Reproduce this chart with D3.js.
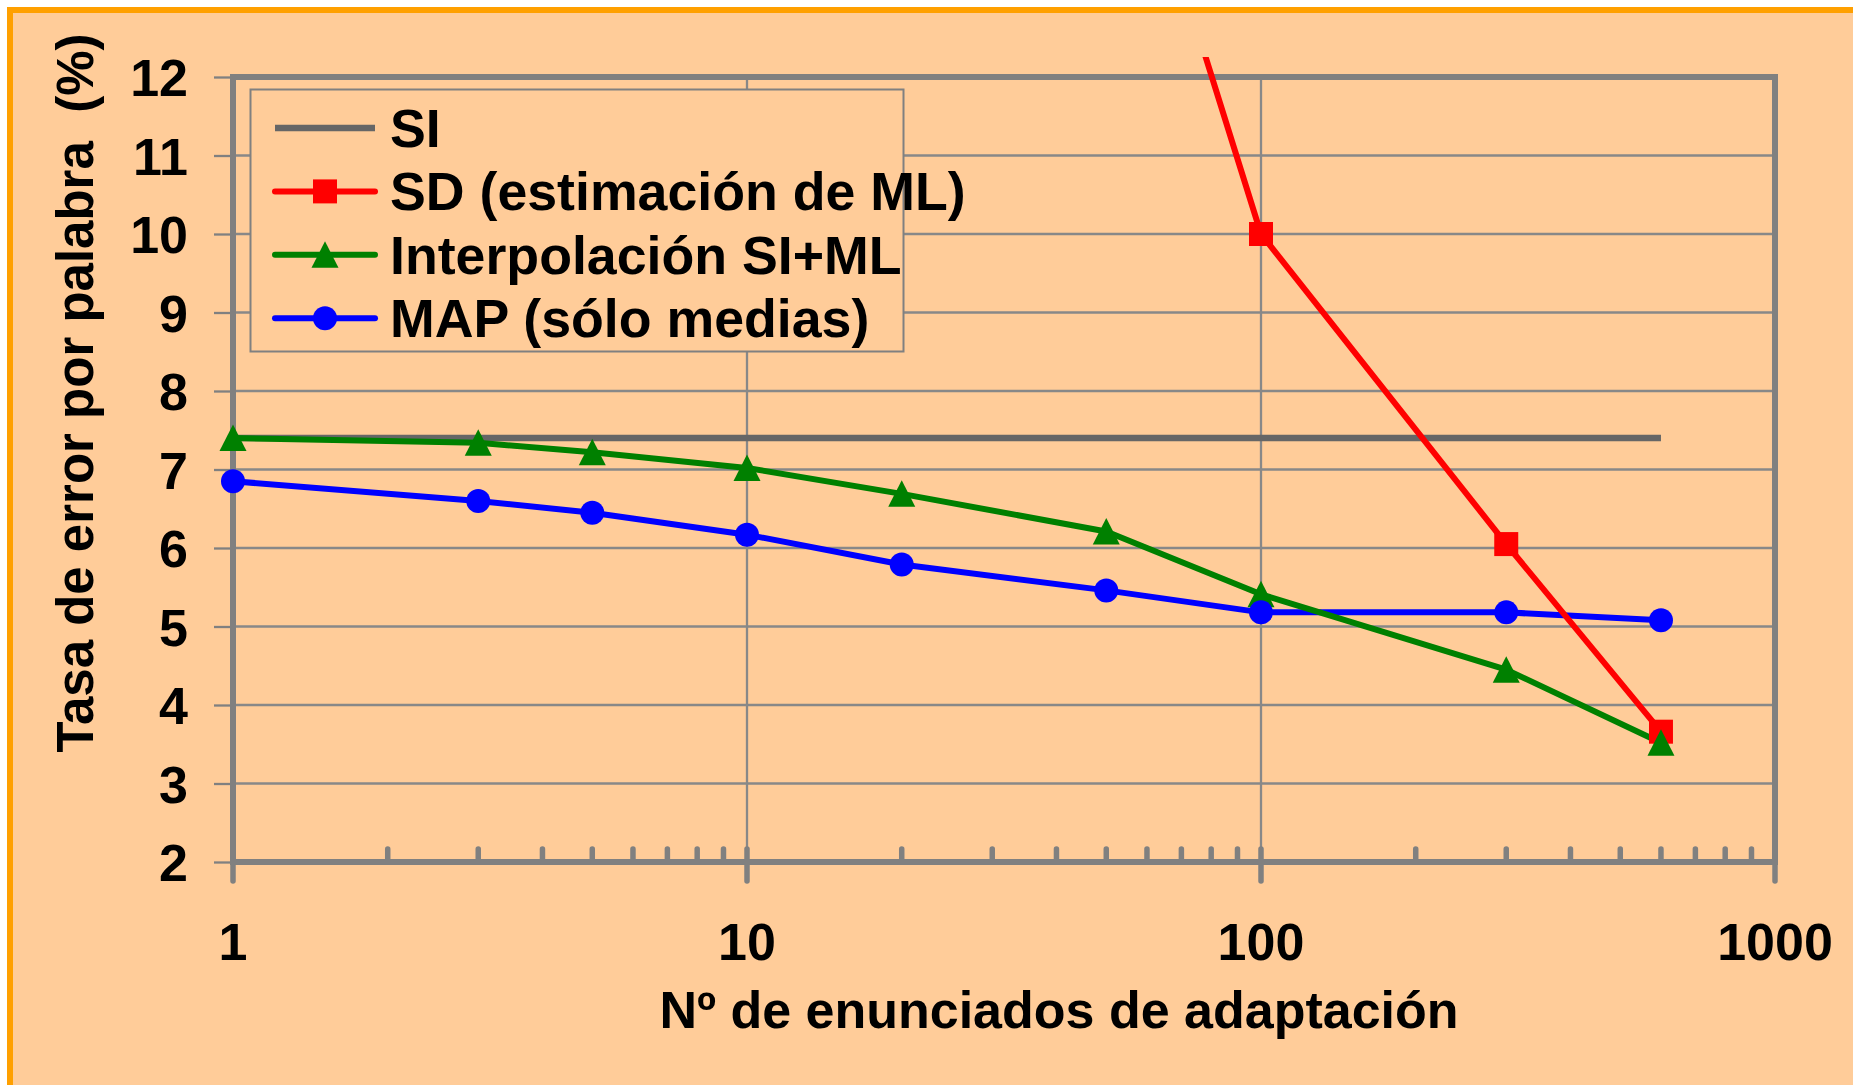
<!DOCTYPE html>
<html lang="es">
<head>
<meta charset="utf-8">
<title>Tasa de error por palabra</title>
<script src="https://cdn.jsdelivr.net/npm/d3@7/dist/d3.min.js"></script>
<style>
  html, body { margin: 0; padding: 0; background: #ffffff; }
  svg { display: block; }
  text { font-family: "Liberation Sans", Arial, Helvetica, sans-serif; font-weight: bold; fill: #000; }
</style>
</head>
<body>
<svg id="chart" width="1853" height="1085"></svg>
<script>
// Number of adaptation utterances (log axis)
const adaptN = [1, 3, 5, 10, 20, 50, 100, 300, 600];
// Word error rate (%) per system
const siN = [1, 600];
const siErr = [7.4, 7.4];
const sdN = [50, 100, 300, 600];
const sdErr = [16.3, 10.0, 6.05, 3.66];
const interpErr = [7.4, 7.34, 7.22, 7.02, 6.69, 6.21, 5.41, 4.45, 3.52];
const mapErr = [6.85, 6.6, 6.45, 6.17, 5.79, 5.46, 5.18, 5.18, 5.08];

const xTickValues = [1, 10, 100, 1000];
const yTickValues = [2, 3, 4, 5, 6, 7, 8, 9, 10, 11, 12];

const legendLabels = ["SI", "SD (estimación de ML)", "Interpolación SI+ML", "MAP (sólo medias)"];
const xTitle = "Nº de enunciados de adaptación";
const yTitle = "Tasa de error por palabra  (%)";

const svg = d3.select("#chart");
const W = 1853, H = 1085;
const plot = { left: 233, right: 1775, top: 77, bottom: 862 };
const axisGray = "#808080";
const fontSize = 52;

// Page background with orange frame
svg.append("rect")
  .attr("x", 10).attr("y", 10)
  .attr("width", W + 20).attr("height", H + 20)
  .attr("fill", "#FFCC99")
  .attr("stroke", "#FFA000")
  .attr("stroke-width", 6);

const x = d3.scaleLog().domain([1, 1000]).range([plot.left, plot.right]);
const y = d3.scaleLinear().domain([2, 12]).range([plot.bottom, plot.top]);

// Horizontal grid lines
svg.append("g").selectAll("line")
  .data(yTickValues.filter(v => v > 2 && v < 12))
  .join("line")
  .attr("x1", plot.left).attr("x2", plot.right)
  .attr("y1", d => y(d)).attr("y2", d => y(d))
  .attr("stroke", "#888888").attr("stroke-width", 2.3);

// Vertical grid lines at inner decades
svg.append("g").selectAll("line")
  .data(xTickValues.filter(v => v > 1 && v < 1000))
  .join("line")
  .attr("x1", d => x(d)).attr("x2", d => x(d))
  .attr("y1", plot.top).attr("y2", plot.bottom)
  .attr("stroke", "#888888").attr("stroke-width", 2.3);

// Y axis ticks and labels
const yAxis = d3.axisLeft(y)
  .tickValues(yTickValues)
  .tickSize(19)
  .tickPadding(26)
  .tickFormat(d3.format("d"));
const gy = svg.append("g").attr("transform", `translate(${plot.left},0)`).call(yAxis);
gy.select(".domain").remove();
gy.selectAll(".tick line").attr("stroke", axisGray).attr("stroke-width", 2.3);
gy.selectAll(".tick text")
  .attr("font-size", fontSize)
  .attr("font-family", null)
  .attr("dy", "0.36em")
  .style("font-weight", "bold");

// Minor x ticks (2..9 per decade), pointing up
const minorTicks = x.ticks().filter(v => !xTickValues.includes(v));
svg.append("g").selectAll("line")
  .data(minorTicks)
  .join("line")
  .attr("x1", d => x(d)).attr("x2", d => x(d))
  .attr("y1", plot.bottom - 13).attr("y2", plot.bottom)
  .attr("stroke", axisGray).attr("stroke-width", 5.5)
  .attr("stroke-linecap", "round");

// Major x ticks, crossing the axis
svg.append("g").selectAll("line")
  .data(xTickValues)
  .join("line")
  .attr("x1", d => x(d)).attr("x2", d => x(d))
  .attr("y1", plot.bottom - 13).attr("y2", plot.bottom + 19)
  .attr("stroke", axisGray).attr("stroke-width", 5.5)
  .attr("stroke-linecap", "round");

// Plot frame
svg.append("rect")
  .attr("x", plot.left).attr("y", plot.top)
  .attr("width", plot.right - plot.left).attr("height", plot.bottom - plot.top)
  .attr("fill", "none")
  .attr("stroke", axisGray).attr("stroke-width", 6);

// X tick labels
svg.append("g").selectAll("text")
  .data(xTickValues)
  .join("text")
  .attr("x", d => x(d))
  .attr("y", 960)
  .attr("text-anchor", "middle")
  .attr("font-size", fontSize)
  .text(d => d3.format("d")(d));

// Axis titles
svg.append("text")
  .attr("x", 1059).attr("y", 1028)
  .attr("text-anchor", "middle")
  .attr("font-size", fontSize)
  .text(xTitle);

svg.append("text")
  .attr("transform", "translate(93,393) rotate(-90)")
  .attr("text-anchor", "middle")
  .attr("font-size", 51)
  .style("white-space", "pre")
  .attr("xml:space", "preserve")
  .text(yTitle);

// Series
const line = d3.line().x(d => x(d[0])).y(d => y(d[1]));
const siData = d3.zip(siN, siErr);
const sdData = d3.zip(sdN, sdErr);
const interpData = d3.zip(adaptN, interpErr);
const mapData = d3.zip(adaptN, mapErr);

const colors = { si: "#666666", sd: "#FF0000", interp: "#008000", map: "#0000FF" };
const lineWidth = 6;

svg.append("defs").append("clipPath").attr("id", "clip")
  .append("rect")
  .attr("x", plot.left - 30).attr("y", plot.top - 20)
  .attr("width", plot.right - plot.left + 60)
  .attr("height", plot.bottom - plot.top + 60);

const series = svg.append("g").attr("clip-path", "url(#clip)");

series.append("path").datum(siData)
  .attr("d", line).attr("fill", "none")
  .attr("stroke", colors.si).attr("stroke-width", 6.5);
series.append("path").datum(mapData)
  .attr("d", line).attr("fill", "none")
  .attr("stroke", colors.map).attr("stroke-width", lineWidth).attr("stroke-linejoin", "round");
series.append("path").datum(interpData)
  .attr("d", line).attr("fill", "none")
  .attr("stroke", colors.interp).attr("stroke-width", lineWidth).attr("stroke-linejoin", "round");
series.append("path").datum(sdData)
  .attr("d", line).attr("fill", "none")
  .attr("stroke", colors.sd).attr("stroke-width", lineWidth).attr("stroke-linejoin", "round");

// Marker shapes
const squarePath = "M-12,-12H12V12H-12Z";
const trianglePath = "M0,-13.5L13.5,13H-13.5Z";
const circlePath = "M-12,0A12,12 0 1,0 12,0A12,12 0 1,0 -12,0Z";

function markers(data, shape, color) {
  series.append("g").selectAll("path")
    .data(data.filter(d => d[1] <= 12))
    .join("path")
    .attr("transform", d => `translate(${x(d[0])},${y(d[1])})`)
    .attr("d", shape)
    .attr("fill", color);
}
markers(sdData, squarePath, colors.sd);
markers(interpData, trianglePath, colors.interp);
markers(mapData, circlePath, colors.map);

// Legend
const legend = svg.append("g");
legend.append("rect")
  .attr("x", 250.5).attr("y", 89.5)
  .attr("width", 653).attr("height", 262)
  .attr("fill", "#FFCC99")
  .attr("stroke", axisGray).attr("stroke-width", 2);

const legendItems = [
  { label: legendLabels[0], color: colors.si, shape: null, width: 6.5 },
  { label: legendLabels[1], color: colors.sd, shape: squarePath, width: lineWidth },
  { label: legendLabels[2], color: colors.interp, shape: trianglePath, width: lineWidth },
  { label: legendLabels[3], color: colors.map, shape: circlePath, width: lineWidth }
];
legendItems.forEach((item, i) => {
  const cy = 128 + i * 63.4;
  legend.append("line")
    .attr("x1", 275).attr("x2", 375)
    .attr("y1", cy).attr("y2", cy)
    .attr("stroke", item.color).attr("stroke-width", item.width)
    .attr("stroke-linecap", item.shape ? "round" : "butt");
  if (item.shape) {
    legend.append("path")
      .attr("transform", `translate(325,${cy})`)
      .attr("d", item.shape)
      .attr("fill", item.color);
  }
  legend.append("text")
    .attr("x", 390).attr("y", cy + 19)
    .attr("font-size", 53.7)
    .text(item.label);
});
</script>
</body>
</html>
